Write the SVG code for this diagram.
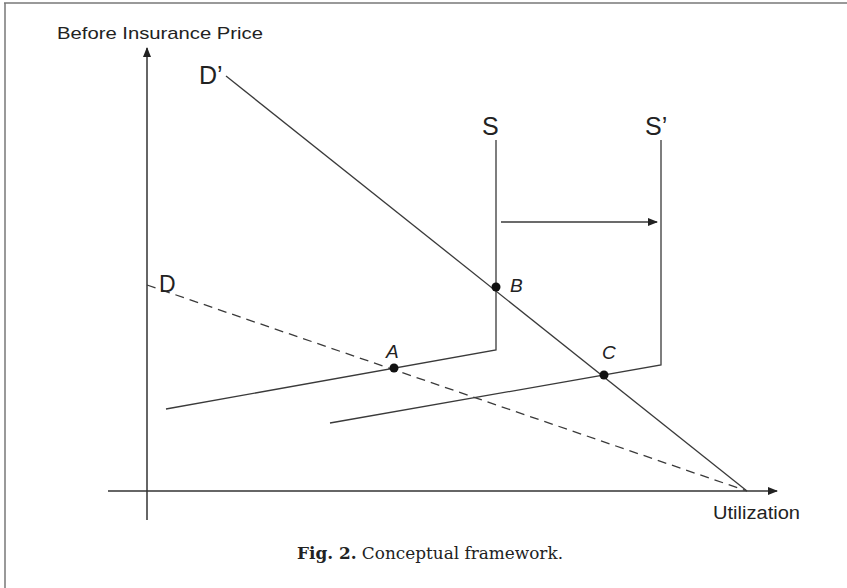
<svg xmlns="http://www.w3.org/2000/svg" width="847" height="588" viewBox="0 0 847 588">
<style>
.ln{stroke:#3a3a3a;stroke-width:1.3;fill:none}
.ax{stroke:#333;stroke-width:1.5;fill:none}
.lbl{font-family:"Liberation Sans",Arial,sans-serif;fill:#222}
.it{font-family:"Liberation Sans",Arial,sans-serif;font-style:italic;fill:#222;font-size:19px}
.dot{fill:#111}
</style>
<defs>
<marker id="ah" markerWidth="10" markerHeight="8" refX="9" refY="4" orient="auto" markerUnits="userSpaceOnUse">
<path d="M0,0 L10,4 L0,8 Z" fill="#222"/>
</marker>
</defs>
<rect width="847" height="588" fill="#fff"/>
<g id="frame">
<line x1="4" y1="3" x2="847" y2="3" stroke="#777" stroke-width="1.5"/>
<line x1="5" y1="3" x2="5" y2="588" stroke="#777" stroke-width="1.5"/>
</g>
<g id="connectors">
<line id="y-axis" class="ax" x1="147" y1="520" x2="147" y2="48" marker-end="url(#ah)"/>
<line id="x-axis" class="ax" x1="108" y1="491" x2="777" y2="491" marker-end="url(#ah)"/>
<line id="Dprime" class="ln" x1="226" y1="76" x2="747" y2="491"/>
<line id="D" class="ln" x1="147" y1="285" x2="747" y2="491" stroke-dasharray="9,6"/>
<polyline id="S" class="ln" points="496,140 496,350 166,409"/>
<polyline id="Sprime" class="ln" points="661,140 661,365 330,423"/>
<line id="shift" class="ln" x1="501" y1="222" x2="657" y2="222" marker-end="url(#ah)"/>
</g>
<g id="axis-labels">
<text class="lbl" x="57" y="39" font-size="17" textLength="206" lengthAdjust="spacingAndGlyphs">Before Insurance Price</text>
<text class="lbl" x="713" y="519" font-size="18" textLength="87" lengthAdjust="spacingAndGlyphs">Utilization</text>
</g>
<g id="curve-labels">
<text class="lbl" x="199" y="84" font-size="25">D’</text>
<text class="lbl" x="482" y="135" font-size="25">S</text>
<text class="lbl" x="645" y="135" font-size="25">S’</text>
<text class="lbl" x="159" y="292" font-size="23">D</text>
</g>
<g id="point-A"><circle class="dot" cx="394" cy="368" r="4.5"/><text class="it" x="386" y="358">A</text></g>
<g id="point-B"><circle class="dot" cx="496" cy="287" r="4.5"/><text class="it" x="510" y="292">B</text></g>
<g id="point-C"><circle class="dot" cx="604" cy="375" r="4.5"/><text class="it" x="602" y="359">C</text></g>
<g id="caption">
<text x="297" y="559" font-family="'DejaVu Serif','Liberation Serif',serif" font-size="16" fill="#222" textLength="266" lengthAdjust="spacingAndGlyphs"><tspan font-weight="bold">Fig. 2.</tspan> Conceptual framework.</text>
</g>
</svg>
